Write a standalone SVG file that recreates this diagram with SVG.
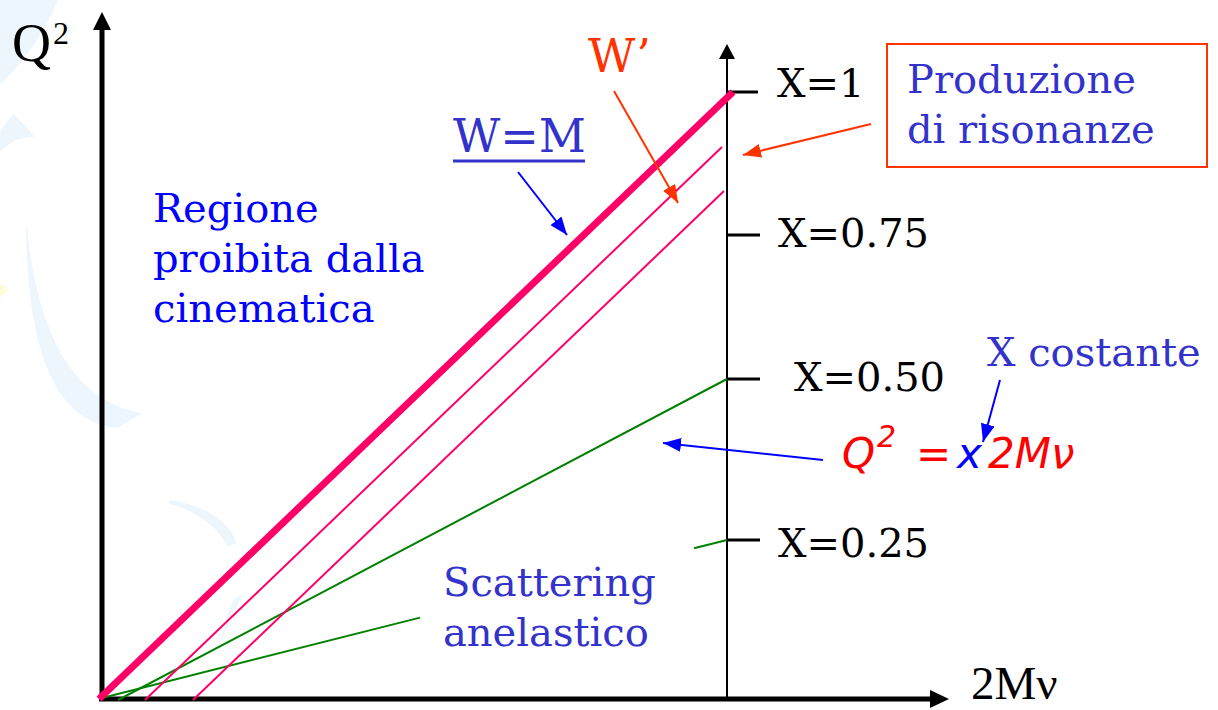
<svg xmlns="http://www.w3.org/2000/svg" width="1218" height="710" viewBox="0 0 1218 710">
<style>
.serif{font-family:"DejaVu Serif","Liberation Serif",serif;font-size:40px}
.k{fill:#000000}
.ind{fill:#3333cc}
.blu{fill:#0000ff}
.org{fill:#ff3300}
.wm{fill:#edf6fd;stroke:none}
.ax{stroke:#000;stroke-width:5;fill:none}
.tick{stroke:#000;stroke-width:3;fill:none}
.pink{stroke:#ff0066;fill:none}
.green{stroke:#008000;stroke-width:2;fill:none}
.ab{stroke:#0000ff;stroke-width:2;fill:none}
.ao{stroke:#ff3300;stroke-width:2;fill:none}
.formula{font-family:"DejaVu Sans","Liberation Sans",sans-serif;font-style:italic;font-size:42px}
</style>
<defs>
<marker id="mb" viewBox="0 0 9 7" refX="9" refY="3.5" markerWidth="9" markerHeight="7" orient="auto" markerUnits="strokeWidth"><path d="M0,0 L9,3.5 L0,7 Z" fill="#0000ff"/></marker>
<marker id="mo" viewBox="0 0 9 7" refX="9" refY="3.5" markerWidth="9" markerHeight="7" orient="auto" markerUnits="strokeWidth"><path d="M0,0 L9,3.5 L0,7 Z" fill="#ff3300"/></marker>
</defs>
<rect width="1218" height="710" fill="#ffffff"/>
<g id="watermark">
<path class="wm" d="M0,0 L58,0 Q38,48 0,85 Z"/>
<path class="wm" d="M0,132 Q8,120 14,114 L35,137 Q15,136 0,152 Z"/>
<path class="wm" d="M26,228 C28,330 45,420 117,428 L143,413 C90,405 40,360 27,228 Z"/>
<path d="M0,283 L8,290 L0,298 Z" fill="#fffbd5"/>
<path class="wm" d="M170,500 C202,505 230,520 236,543 L227,547 C218,526 196,511 170,504 Z"/>
<path class="wm" d="M242,595 L233,600 Q225,620 220,643 Q230,622 242,595 Z"/>
</g>
<g id="axes">
<line class="ax" x1="102" y1="701" x2="102" y2="28"/>
<polygon points="93,30 111,30 102,12" fill="#000"/>
<line class="ax" x1="99" y1="699" x2="932" y2="699"/>
<polygon points="930,690 930,708 949,699" fill="#000"/>
<line x1="727" y1="699" x2="727" y2="57" stroke="#000" stroke-width="2"/>
<polygon points="719,59 735,59 727,44" fill="#000"/>
<line class="tick" x1="727" y1="92" x2="758" y2="92"/>
<line class="tick" x1="727" y1="235" x2="760" y2="235"/>
<line class="tick" x1="727" y1="379" x2="760" y2="379"/>
<line class="tick" x1="727" y1="540" x2="760" y2="540"/>
</g>
<g id="curves">
<line class="green" x1="118" y1="700" x2="727" y2="379"/>
<line class="green" x1="102" y1="698" x2="420" y2="617.6"/>
<line class="green" x1="694" y1="548.3" x2="727" y2="540"/>
<line class="pink" stroke-width="2" x1="145" y1="700" x2="722" y2="147"/>
<line class="pink" stroke-width="2" x1="193" y1="700" x2="724" y2="191"/>
<line class="pink" stroke-width="7" x1="99" y1="699" x2="733" y2="92"/>
</g>
<g id="connectors">
<line class="ab" x1="518" y1="172" x2="567" y2="235" marker-end="url(#mb)"/>
<line class="ao" x1="614" y1="91" x2="678" y2="203" marker-end="url(#mo)"/>
<line class="ao" x1="871" y1="124" x2="743" y2="155" marker-end="url(#mo)"/>
<line class="ab" x1="1000" y1="380" x2="983" y2="442" marker-end="url(#mb)"/>
<line class="ab" x1="823" y1="460" x2="663" y2="443" marker-end="url(#mb)"/>
</g>
<g id="axis-labels">
<text x="12" y="61" font-family="Liberation Serif, serif" font-size="54" fill="#000">Q</text>
<text x="53" y="44" font-family="Liberation Serif, serif" font-size="32" fill="#000">2</text>
<text x="971" y="699" font-family="Liberation Serif, serif" font-size="47" fill="#000">2Mν</text>
</g>
<g id="x-labels" class="serif k">
<text x="777" y="97">X=1</text>
<text x="778" y="247">X=0.75</text>
<text x="794" y="391">X=0.50</text>
<text x="778" y="557">X=0.25</text>
</g>
<g id="regione">
<text class="serif blu" x="153"><tspan x="153" y="222">Regione</tspan><tspan x="153" y="272">proibita dalla</tspan><tspan x="153" y="322">cinematica</tspan></text>
</g>
<g id="wm-label">
<text class="ind" x="453" y="152" font-family="DejaVu Serif, serif" font-size="46">W=M</text>
<rect x="453" y="159.5" width="132" height="3" fill="#3333cc"/>
</g>
<g id="wprime">
<text class="org" x="588" y="72" font-family="DejaVu Serif, serif" font-size="46">W’</text>
</g>
<g id="produzione">
<rect x="887" y="44" width="320" height="123" fill="none" stroke="#ff3300" stroke-width="2"/>
<text class="serif ind"><tspan x="907" y="93">Produzione</tspan><tspan x="907" y="143">di risonanze</tspan></text>
</g>
<g id="xcostante">
<text class="serif ind" x="987" y="366">X costante</text>
</g>
<g id="formula">
<text class="formula" fill="#ff0000"><tspan x="842" y="468">Q</tspan><tspan x="877" y="447" font-size="30">2</tspan><tspan x="916" y="468" font-style="normal">=</tspan><tspan x="957" y="468" fill="#0000ff">x</tspan><tspan x="988" y="468">2Mν</tspan></text>
</g>
<g id="scattering">
<text class="serif ind"><tspan x="443" y="596">Scattering</tspan><tspan x="443" y="646">anelastico</tspan></text>
</g>
</svg>
